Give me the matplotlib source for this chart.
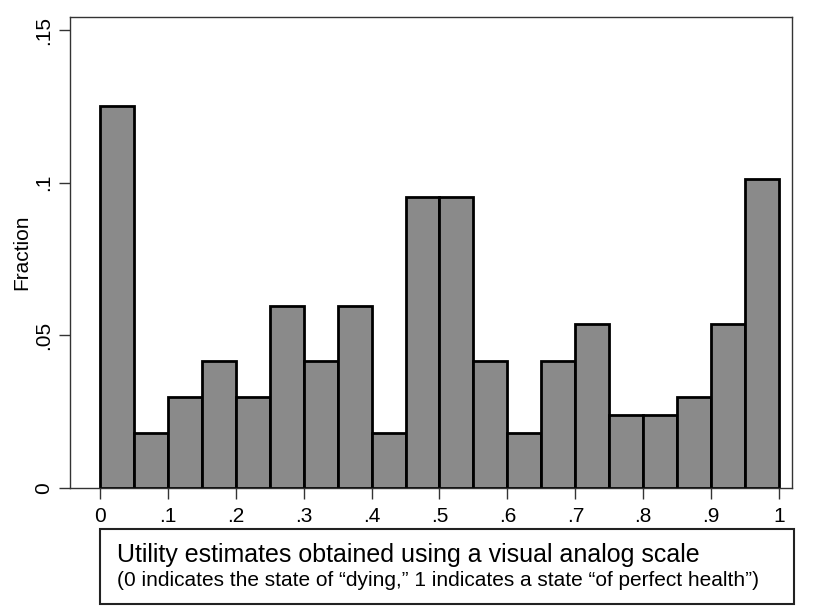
import numpy as np
import matplotlib
matplotlib.use("Agg")
import matplotlib.pyplot as plt
from matplotlib.patches import Rectangle

plt.rcParams['font.family'] = ['Liberation Sans', 'DejaVu Sans']

# histogram: 20 bins of width .05 from 0 to 1
bin_left = np.arange(0, 1, 0.05)
fraction = [0.125, 0.0179, 0.0298, 0.0417, 0.0298, 0.0595, 0.0417, 0.0595,
            0.0179, 0.0952, 0.0952, 0.0417, 0.0179, 0.0417, 0.0536, 0.0238,
            0.0238, 0.0298, 0.0536, 0.1012]
xticks = np.arange(0, 1.01, 0.1)
xticklabels = ["0", ".1", ".2", ".3", ".4", ".5", ".6", ".7", ".8", ".9", "1"]
yticks = [0, 0.05, 0.1, 0.15]
yticklabels = ["0", ".05", ".1", ".15"]

fig = plt.figure(figsize=(8.15, 6.15), dpi=100)
ax = fig.add_axes([70/815, 1-488/615, (792-70)/815, (488-17)/615])

ax.bar(bin_left, fraction, width=0.05, align="edge", color="#8a8a8a",
       edgecolor="black", linewidth=2)

ax.set_xlim(-0.044, 1.019)
ax.set_ylim(0, 0.1543)
ax.set_xticks(xticks)
ax.set_xticklabels(xticklabels, fontsize=15)
ax.set_yticks(yticks)
ax.set_yticklabels(yticklabels, fontsize=15, rotation=90, va="center")
ax.tick_params(length=8, width=1, color="#333333")
ax.tick_params(axis="x", pad=6)
ax.tick_params(axis="y", pad=4)
ax.set_ylabel("Fraction", fontsize=15, labelpad=2)
for s in ax.spines.values():
    s.set_color("#333333")
    s.set_linewidth(1)

# caption box below the plot
fig.patches.append(Rectangle((100/815, 1-604/615), (794-100)/815, (604-529)/615,
                             transform=fig.transFigure, fill=False,
                             edgecolor="#222222", linewidth=1.5))
fig.text(117/815, 1-562/615, "Utility estimates obtained using a visual analog scale",
         fontsize=18, va="baseline")
fig.text(117/815, 1-586/615,
         "(0 indicates the state of \u201cdying,\u201d 1 indicates a state \u201cof perfect health\u201d)",
         fontsize=15, va="baseline")

fig.savefig("out.png", dpi=100)
